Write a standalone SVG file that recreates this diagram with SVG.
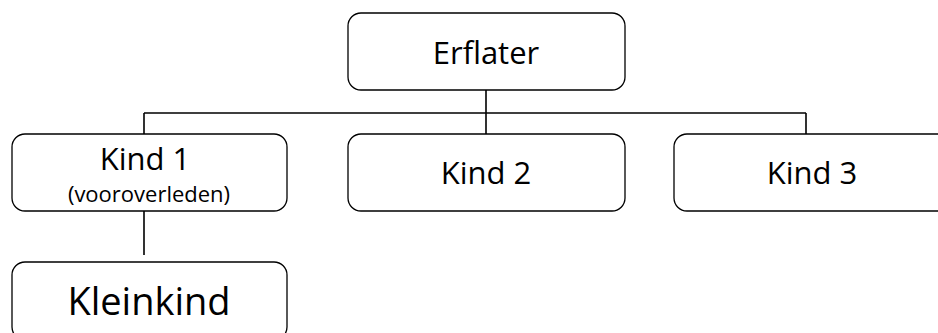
<svg xmlns="http://www.w3.org/2000/svg" width="938" height="333" viewBox="0 0 938 333">
<style>
.box{fill:#fff;stroke:#000;stroke-width:1.3}
.ln{stroke:#000;stroke-width:1.6;fill:none}
text{font-family:"Open Sans","Liberation Sans",sans-serif;fill:#000;text-anchor:middle}
.t{font-size:31px}
.s{font-size:22px}
.b{font-size:38px}
</style>
<rect width="938" height="333" fill="#fff"/>
<g id="connectors">
<path class="ln" d="M486 90V134M144 113H806M144 113V134M806 113V134M144 211V255"/>
</g>
<g id="erflater"><rect class="box" x="348" y="13" width="277" height="77" rx="13"/><text class="t" x="486" y="64">Erflater</text></g>
<g id="kind1"><rect class="box" x="12" y="134" width="275" height="77" rx="13"/><text class="t" x="145" y="170">Kind 1</text><text class="s" x="149" y="202">(vooroverleden)</text></g>
<g id="kind2"><rect class="box" x="348" y="134" width="277" height="77" rx="13"/><text class="t" x="486" y="184">Kind 2</text></g>
<g id="kind3"><rect class="box" x="674" y="134" width="290" height="77" rx="13"/><text class="t" x="812" y="184">Kind 3</text></g>
<g id="kleinkind"><rect class="box" x="12" y="262" width="275" height="78" rx="13"/><text class="b" x="149" y="315">Kleinkind</text></g>
</svg>
